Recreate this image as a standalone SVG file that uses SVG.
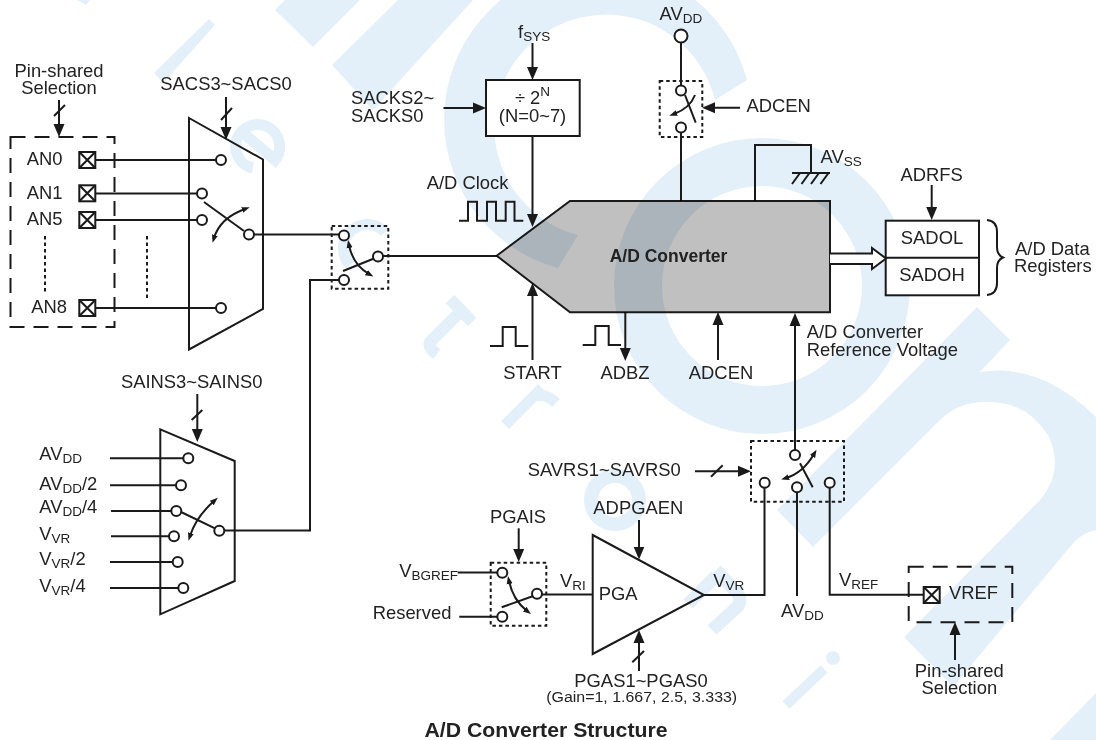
<svg xmlns="http://www.w3.org/2000/svg" width="1096" height="740" viewBox="0 0 1096 740">
<defs>
<style>
text{font-family:"Liberation Sans",Arial,sans-serif;font-size:18.4px;fill:#222}
.b{font-weight:bold}
.m{text-anchor:middle}
.s{font-size:13.5px}
.l{fill:none;stroke:#1a1a1a;stroke-width:2}
.n{fill:#fff;stroke:#1a1a1a;stroke-width:2}
.t{fill:none;stroke:#1a1a1a;stroke-width:2}
.c{fill:#fff;stroke:#1a1a1a;stroke-width:2}
.dash{fill:none;stroke:#1a1a1a;stroke-width:2;stroke-dasharray:15 9}
.dot{fill:none;stroke:#1a1a1a;stroke-width:2;stroke-dasharray:3.5 3}
.a{marker-end:url(#ah)}
.w{marker-end:url(#sh);fill:none;stroke:#1a1a1a;stroke-width:2}
.d{marker-start:url(#sh)}
.wm{fill:#e4f0f9}
.ws{fill:none;stroke:#e4f0f9}
</style>
<marker id="ah" markerUnits="userSpaceOnUse" markerWidth="14" markerHeight="13" refX="9" refY="6.5" orient="auto"><path d="M0,1 L13,6.5 L0,12 Z" fill="#1a1a1a"/></marker>
<marker id="sh" markerUnits="userSpaceOnUse" markerWidth="9" markerHeight="8" refX="3" refY="4" orient="auto-start-reverse"><path d="M0,1 L8,4 L0,7 Z" fill="#1a1a1a"/></marker>
<symbol id="pin" viewBox="0 0 17 17" width="17" height="17" overflow="visible"><rect x="0" y="0" width="16" height="16" class="n"/><path d="M0,0 L16,16 M16,0 L0,16" class="l"/></symbol>
</defs>

<g id="watermark">
<path class="wm" d="M747,80 A154,154 0 1 0 558,268 L578,235 A112,112 0 1 1 715,100 Z"/>
<path class="wm" fill-rule="evenodd" d="M910,286 A148,148 0 1 1 614,286 A148,148 0 1 1 910,286 Z M862,286 A100,100 0 1 0 662,286 A100,100 0 1 0 862,286 Z"/>
<path class="wm" d="M977,307 L1010,340 L980,372 Q1040,362 1096,417 L1096,530 Q1085,532 1075,541 L953,687 L904,637 L1040,500 Q1065,470 1048,435 Q1025,400 985,402 Q958,402 940,420 L813,547 L777,510 Z"/>
<path class="wm" d="M1050,740 L1096,693 L1096,740 Z"/>
<path class="wm" d="M77,0 L90,0 L86,5 Z"/>
<path class="wm" d="M209,19 L215,25 L163,83 L154,73 Z"/>
<path class="wm" d="M275,10 L285,0 L360,0 L313,47 Z"/>
<path class="wm" d="M332,65 L398,0 L473,0 L373,110 Z"/>
<path class="ws" stroke-width="11" d="M243,133 L275,160 A22,22 0 1 0 253,168"/>
<path class="ws" stroke-width="11" d="M385,232 A24,24 0 1 0 350,265"/>
<path class="ws" stroke-width="12" d="M450,299 L472,322 M462,310 L430,342 Q428,348 437,354"/>
<path class="ws" stroke-width="11" d="M505,425 L542,388 M533,397 Q545,392 556,403"/>
<circle class="ws" cx="615" cy="500" r="24" stroke-width="14"/>
<path class="ws" stroke-width="13" d="M688,604 L716,576 M716,570 L738,594 Q743,602 736,608 L712,630"/>
<circle class="wm" cx="833" cy="658" r="7"/>
<path class="ws" stroke-width="10" d="M786,705 L824,669"/>
</g>

<g id="connectors">
<path class="l" d="M95,160 H216 M95,193.5 H197 M95,220 H197 M95,308 H216"/>
<path class="l" d="M254,234.5 H339 M383,256 H497 M339,280 H310 V530.5 H224"/>
<path class="l a" d="M59,100 V133"/>
<path class="l" d="M54,116 L65,105"/>
<path class="l a" d="M226,97 V136"/>
<path class="l" d="M221,120 L232,108"/>
<path class="l a" d="M197.3,394 V438"/>
<path class="l" d="M191.7,420 L202.3,410"/>
<path class="l" d="M110,458.3 H183 M110,485.3 H176 M111,511 H171.3 M111,536.3 H169 M110,562 H172.7 M110,588 H178.3"/>
<path class="l a" d="M532.5,43 V76"/>
<path class="l a" d="M443.5,108 H482"/>
<path class="l a" d="M532.5,136 V223"/>
<path class="l a" d="M532.5,360 V287"/>
<path class="l a" d="M625.3,312 V357"/>
<path class="l a" d="M718,360 V316"/>
<path class="l a" d="M795,450 V317"/>
<path class="l" d="M681,43 V85.5 M681,132.5 V201"/>
<path class="l a" d="M740,107.7 H706"/>
<path class="l" d="M755,201 V145 H811 V173"/>
<path class="l a" d="M931.7,185 V216"/>
<path class="l a" d="M695,471.3 H747"/>
<path class="l" d="M711,476.7 L722.7,465.3"/>
<path class="l" d="M704,595 H764.5 V487.7 M797,492.3 V596 M829.7,487.7 V594.7 H924"/>
<path class="l" d="M457.7,572.5 H497.3 M459.3,616.7 H497.3 M542,594.5 H592.7"/>
<path class="l a" d="M639,520 V555.5"/>
<path class="l a" d="M518.7,528.3 V558"/>
<path class="l a" d="M639,671 V634"/>
<path class="l" d="M632.3,662.3 L644,651"/>
<path class="l a" d="M955,660 V626"/>
<path class="l" d="M459,220.7 H468 V201.7 H477 V220.7 H487 V201.7 H496 V220.7 H505.7 V201.7 H514.5 V220.7 H523.3"/>
<path class="l" d="M490,346 H502.7 V327 H515.7 V346 H528.3"/>
<path class="l" d="M582.7,345 H595.3 V326 H608.7 V345 H621"/>
</g>

<g id="pin-group">
<rect class="dash" x="10.5" y="137" width="104" height="190"/>
<use href="#pin" x="79.3" y="152"/>
<use href="#pin" x="79.3" y="185.3"/>
<use href="#pin" x="79.3" y="212"/>
<use href="#pin" x="79.3" y="300"/>
<text x="26.7" y="165">AN0</text>
<text x="26.7" y="199">AN1</text>
<text x="26.7" y="225">AN5</text>
<text x="31.3" y="313">AN8</text>
<path class="dot" d="M45,236 V292"/>
<text class="m" x="59" y="77">Pin-shared</text>
<text class="m" x="59" y="94">Selection</text>
</g>

<g id="mux-sacs">
<path class="t" d="M189,118 L263,159.5 V309 L189,349.5 Z"/>
<circle class="c" cx="221" cy="160" r="5"/>
<circle class="c" cx="202" cy="193.5" r="5"/>
<circle class="c" cx="202" cy="220" r="5"/>
<circle class="c" cx="221" cy="308" r="5"/>
<circle class="c" cx="249" cy="234.5" r="5"/>
<path class="l" d="M204,202 L244,231"/>
<path class="w d" d="M214,238 Q220,218 245,209"/>
<path class="dot" d="M147,236 V298"/>
<text class="m" x="226" y="90">SACS3~SACS0</text>
</g>

<g id="switch-input">
<rect class="dot" x="331.7" y="226" width="56.6" height="62.7"/>
<circle class="c" cx="344" cy="235.5" r="5"/>
<circle class="c" cx="344" cy="280" r="5"/>
<circle class="c" cx="378" cy="256.5" r="5"/>
<path class="l" d="M343,271 L374,258.5"/>
<path class="w d" d="M349,245 Q353,265 369,274"/>
</g>

<g id="mux-sains">
<path class="t" d="M160.3,429.3 L234.7,461 V581 L160.3,614.3 Z"/>
<circle class="c" cx="188.3" cy="458.3" r="5"/>
<circle class="c" cx="181" cy="485.3" r="5"/>
<circle class="c" cx="176.3" cy="511" r="5"/>
<circle class="c" cx="174" cy="536.3" r="5"/>
<circle class="c" cx="177.7" cy="562" r="5"/>
<circle class="c" cx="183.3" cy="588" r="5"/>
<circle class="c" cx="219.3" cy="530.7" r="5"/>
<path class="l" d="M181,512 L215,528.3"/>
<path class="w d" d="M190,536 Q196,517 214,501"/>
<text class="m" x="191.7" y="388.3">SAINS3~SAINS0</text>
<text x="39.3" y="460">AV<tspan class="s" dy="3">DD</tspan></text>
<text x="39.3" y="490">AV<tspan class="s" dy="3">DD</tspan><tspan dy="-3">/2</tspan></text>
<text x="39.3" y="512.7">AV<tspan class="s" dy="3">DD</tspan><tspan dy="-3">/4</tspan></text>
<text x="39.3" y="540">V<tspan class="s" dy="3">VR</tspan></text>
<text x="39.3" y="565">V<tspan class="s" dy="3">VR</tspan><tspan dy="-3">/2</tspan></text>
<text x="39.3" y="591.7">V<tspan class="s" dy="3">VR</tspan><tspan dy="-3">/4</tspan></text>
</g>

<g id="converter">
<path d="M496.7,255.7 L570,201 H830 V312.3 H570 Z" fill="#c0c0c0" stroke="#1a1a1a" stroke-width="2" style="mix-blend-mode:multiply"/>
<text class="b m" x="668.5" y="261.7" style="font-size:17.5px">A/D Converter</text>
<text x="426.7" y="189">A/D Clock</text>
<text class="m" x="532.5" y="379">START</text>
<text class="m" x="625" y="379">ADBZ</text>
<text class="m" x="721" y="379">ADCEN</text>
<text x="806.7" y="338.3">A/D Converter</text>
<text x="806.7" y="355.7">Reference Voltage</text>
</g>

<g id="divider">
<rect class="n" x="486" y="80" width="93.7" height="56"/>
<text class="m" x="532.5" y="104">÷ 2<tspan class="s" dy="-8">N</tspan></text>
<text class="m" x="532.5" y="122">(N=0~7)</text>
<text x="518" y="38">f<tspan class="s" dy="3">SYS</tspan></text>
<text x="351" y="104">SACKS2~</text>
<text x="351" y="121.7">SACKS0</text>
</g>

<g id="switch-adcen">
<rect class="dot" x="659.7" y="81" width="42.6" height="56"/>
<circle class="c" cx="681" cy="36" r="6.5"/>
<circle class="c" cx="681" cy="90.5" r="5"/>
<circle class="c" cx="681" cy="127.5" r="5"/>
<path class="l" d="M685,95 L695.7,122.7"/>
<path class="w" d="M695,95 Q690,108 674,114"/>
<text x="659.5" y="20">AV<tspan class="s" dy="3">DD</tspan></text>
<text x="746.5" y="111.7">ADCEN</text>
</g>

<g id="ground">
<path class="l" d="M792,173 H830 M792,184 L800,173 M801.5,184 L809.5,173 M811,184 L819,173 M820.5,184 L828.5,173"/>
<text x="820.5" y="163">AV<tspan class="s" dy="3">SS</tspan></text>
</g>

<g id="registers">
<rect class="n" x="885.7" y="220.7" width="93.3" height="74.6"/>
<path class="l" d="M885.7,257.7 H979"/>
<text class="m" x="932" y="244.3">SADOL</text>
<text class="m" x="932" y="281">SADOH</text>
<path class="l" d="M987,220 Q997,221 997,232 V247 Q997,255 1003,257.5 Q997,260 997,268 V283 Q997,294 987,295"/>
<path class="n" d="M830,253.5 H872 V248 L886,258.5 L872,269 V264 H830"/>
<text x="931.7" y="180.7" class="m">ADRFS</text>
<text x="1015" y="255">A/D Data</text>
<text x="1014" y="271.7">Registers</text>
</g>

<g id="switch-pga">
<rect class="dot" x="490.7" y="562.7" width="55.6" height="63"/>
<circle class="c" cx="502.3" cy="572.7" r="5"/>
<circle class="c" cx="502.3" cy="616.7" r="5"/>
<circle class="c" cx="537" cy="593.7" r="5"/>
<path class="l" d="M501.7,607.3 L533.3,596"/>
<path class="w d" d="M509,581 Q513,600 527,611"/>
<text class="m" x="518" y="523.3">PGAIS</text>
<text x="399.3" y="577.3">V<tspan class="s" dy="3">BGREF</tspan></text>
<text x="372.7" y="619">Reserved</text>
</g>

<g id="pga">
<path class="t" d="M592.7,535 L704,595 L592.7,654 Z"/>
<text x="598.7" y="600">PGA</text>
<text x="560" y="586.7">V<tspan class="s" dy="3">RI</tspan></text>
<text x="713.3" y="586.7">V<tspan class="s" dy="3">VR</tspan></text>
<text class="m" x="638.3" y="514">ADPGAEN</text>
<text class="m" x="641" y="686.7">PGAS1~PGAS0</text>
<text class="m" x="641.7" y="702.3" style="font-size:15.5px" textLength="191" lengthAdjust="spacingAndGlyphs">(Gain=1, 1.667, 2.5, 3.333)</text>
</g>

<g id="switch-ref">
<rect class="dot" x="751" y="441" width="93" height="60.7"/>
<circle class="c" cx="795" cy="455" r="5"/>
<circle class="c" cx="764.7" cy="482.7" r="5"/>
<circle class="c" cx="797" cy="487.3" r="5"/>
<circle class="c" cx="829.7" cy="482.7" r="5"/>
<path class="l" d="M800,463.3 L812.7,487.3"/>
<path class="w d" d="M786,478 Q803,473 814,454"/>
<text x="527.7" y="475.7">SAVRS1~SAVRS0</text>
<text x="781" y="617.3">AV<tspan class="s" dy="3">DD</tspan></text>
<text x="839" y="586">V<tspan class="s" dy="3">REF</tspan></text>
</g>

<g id="vref">
<rect class="dash" x="908.7" y="566.7" width="103.6" height="55.6"/>
<use href="#pin" x="923.7" y="587"/>
<text x="949" y="599">VREF</text>
<text class="m" x="959.3" y="676.7">Pin-shared</text>
<text class="m" x="959.3" y="694">Selection</text>
</g>

<text class="b m" x="546" y="736.7" style="font-size:19.5px" textLength="243" lengthAdjust="spacingAndGlyphs">A/D Converter Structure</text>
</svg>
